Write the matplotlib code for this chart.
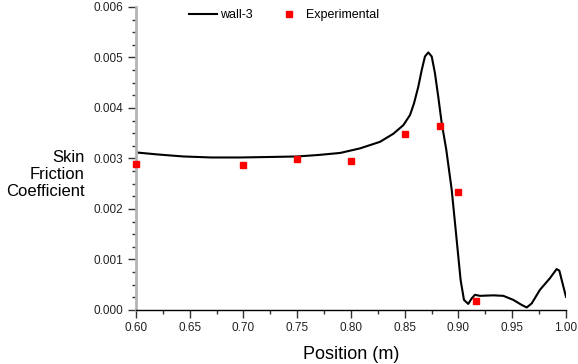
import matplotlib.pyplot as plt
from matplotlib.ticker import MultipleLocator, FormatStrFormatter

plt.rcParams['font.family'] = ['Liberation Sans', 'DejaVu Sans']

# wall-3 skin friction curve
wall_x = [0.600, 0.620, 0.644, 0.670, 0.697, 0.725, 0.750, 0.770, 0.790, 0.8084,
          0.8270, 0.8394, 0.8487, 0.8549, 0.8586, 0.8626, 0.8658, 0.8688, 0.8719,
          0.8751, 0.8781, 0.8812, 0.8844, 0.8886, 0.8937, 0.8983, 0.9020, 0.9051,
          0.9091, 0.9123, 0.9153, 0.9200, 0.9324, 0.9417, 0.9510, 0.9588, 0.9635,
          0.9681, 0.9758, 0.9851, 0.9913, 0.9938, 1.000]
wall_cf = [0.00312, 0.00308, 0.00304, 0.00302, 0.00302, 0.00303, 0.00304, 0.00307,
           0.00311, 0.00320, 0.00333, 0.00349, 0.00366, 0.00386, 0.00409, 0.00442,
           0.00475, 0.00502, 0.00510, 0.00502, 0.00469, 0.00422, 0.00370, 0.00318,
           0.00238, 0.00139, 0.00059, 0.00020, 0.00012, 0.00023, 0.00030, 0.00028,
           0.00029, 0.00028, 0.00020, 0.00010, 0.00005, 0.00013, 0.00040, 0.00063,
           0.00081, 0.00078, 0.00026]

# experimental points
exp_x = [0.600, 0.700, 0.750, 0.800, 0.850, 0.883, 0.900, 0.916]
exp_cf = [0.00289, 0.00287, 0.00299, 0.00295, 0.00348, 0.00364, 0.00233, 0.00018]

fig = plt.figure(figsize=(5.78, 3.64), dpi=100)
ax = fig.add_axes([0.2353, 0.1484, 0.7439, 0.8324])

ax.plot(wall_x, wall_cf, color='black', lw=1.5, label='wall-3',
        solid_joinstyle='round')
ax.plot(exp_x, exp_cf, 's', color='#ff0000', ms=5, mec='#ff0000', label='Experimental',
        clip_on=False, zorder=3)

ax.set_xlim(0.6, 1.0)
ax.set_ylim(0, 0.006)
ax.xaxis.set_major_locator(MultipleLocator(0.05))
ax.xaxis.set_minor_locator(MultipleLocator(0.025))
ax.yaxis.set_major_locator(MultipleLocator(0.001))
ax.yaxis.set_minor_locator(MultipleLocator(0.00025))
ax.xaxis.set_major_formatter(FormatStrFormatter('%.2f'))
ax.yaxis.set_major_formatter(FormatStrFormatter('%.3f'))

for side in ['top', 'right']:
    ax.spines[side].set_visible(False)
ax.spines['left'].set_color('#b4b4b4')
ax.spines['left'].set_linewidth(2)
ax.spines['bottom'].set_color('black')
ax.spines['bottom'].set_linewidth(1)

ax.tick_params(which='major', length=6, width=1, color='#333333', labelsize=8.5,
               labelcolor='#222222', pad=3)
ax.tick_params(which='minor', length=3, width=1, color='#333333')

ax.set_xlabel('Position (m)', fontsize=13, labelpad=8)
fig.text(0.147, 0.52, 'Skin\nFriction\nCoefficient', fontsize=12, ha='right',
         va='center', linespacing=1.15, multialignment='right')

ax.legend(loc='upper left', bbox_to_anchor=(0.096, 1.03), ncol=2, frameon=False,
          fontsize=9, handlelength=2.3, handletextpad=0.2, columnspacing=1.8)

fig.savefig('out.png', dpi=100)
